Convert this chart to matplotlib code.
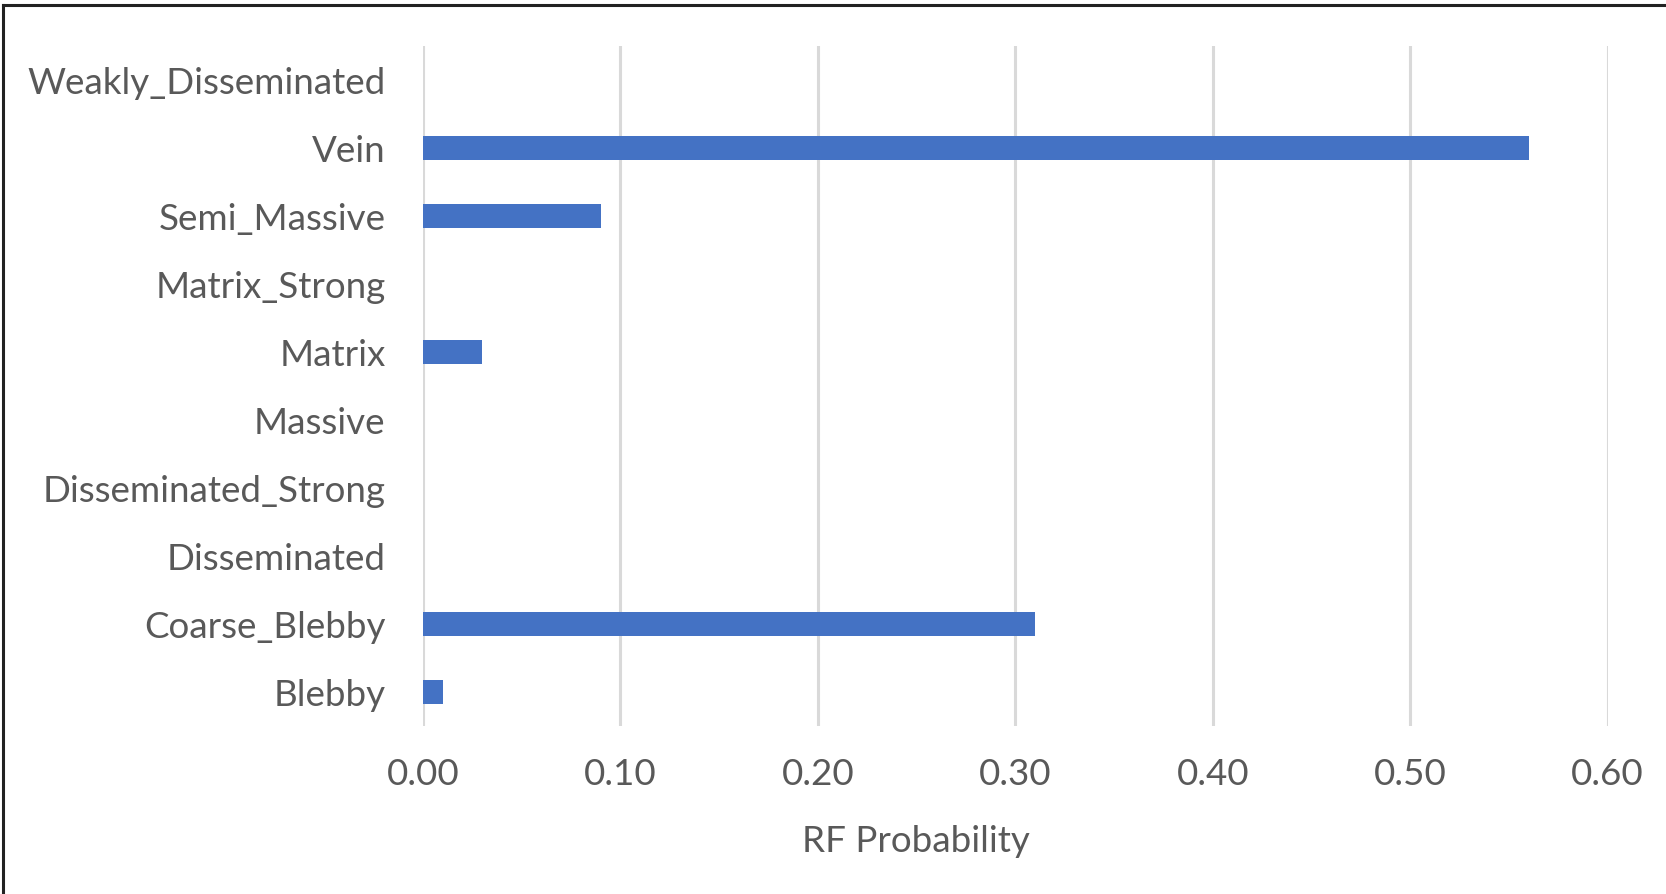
import matplotlib.pyplot as plt

plt.rcParams['font.family'] = ['Lato', 'DejaVu Sans']

# textures, bottom to top
categories = ['Blebby', 'Coarse_Blebby', 'Disseminated', 'Disseminated_Strong',
              'Massive', 'Matrix', 'Matrix_Strong', 'Semi_Massive', 'Vein',
              'Weakly_Disseminated']
probability = [0.01, 0.31, 0.0, 0.0, 0.0, 0.03, 0.0, 0.09, 0.56, 0.0]
xticks = [0.0, 0.1, 0.2, 0.3, 0.4, 0.5, 0.6]

text_col = '#595959'

fig = plt.figure(figsize=(16.66, 8.94), dpi=100)
ax = fig.add_axes([0.2539, 0.1879, 0.7111, 0.7606])

ax.barh(range(len(categories)), probability, height=0.35, color='#4472C4', zorder=3)

ax.set_xlim(0, 0.6)
ax.set_ylim(-0.5, len(categories) - 0.5)
ax.set_xticks(xticks)
ax.set_xticklabels(['%.2f' % v for v in xticks])
ax.set_yticks(range(len(categories)))
ax.set_yticklabels(categories)
ax.tick_params(axis='both', length=0, labelsize=26.5, colors=text_col)
ax.tick_params(axis='y', pad=27)
ax.tick_params(axis='x', pad=23)
ax.grid(axis='x', color='#D9D9D9', linewidth=2.2, zorder=0)
for s in ax.spines.values():
    s.set_visible(False)

ax.set_xlabel('RF Probability', fontsize=26.5, color=text_col)
ax.xaxis.set_label_coords(0.416, -0.146)

# chart frame, only top and left edges show
fig.add_artist(plt.Line2D([0.0018, 0.0018], [0, 0.9945], color='#222222', lw=2.2))
fig.add_artist(plt.Line2D([0.0018, 1.0], [0.9945, 0.9945], color='#222222', lw=2.2))

fig.savefig('out.png', dpi=100)
